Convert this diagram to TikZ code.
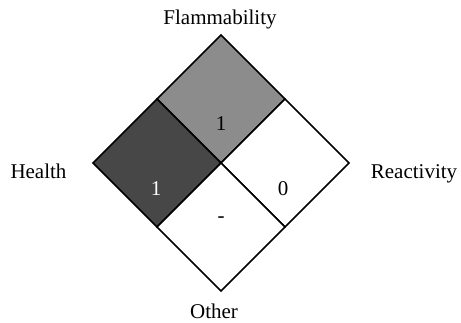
\documentclass[tikz,border=0pt]{standalone}
\usepackage{fontspec}
\setmainfont{Liberation Serif}
\usepackage{tikz}
\usetikzlibrary{positioning, shapes.geometric}

\begin{document}
\begin{tikzpicture}[x=1pt, y=1pt, every node/.style={font=\fontsize{21}{25}\selectfont, inner sep=0pt, outer sep=0pt},
    cell/.style={draw, diamond, line width=1.5pt, minimum width=128pt, minimum height=128pt, aspect=1},
    num/.style={anchor=base}, lbl/.style={anchor=base}]
        \useasboundingbox (0,0) rectangle (461,322);

        \node (flam) [cell, fill=black!45] at (221,223) {};
        \node (health) [cell, fill=black!72] at (157,159) {};
        \node (react) [cell, fill=white] at (285,159) {};
        \node (other) [cell, fill=white] at (221,95) {};

        \node (flamval) [num] at (221,192) {1};
        \node (healthval) [num, text=white] at (156,127) {1};
        \node (reactval) [num] at (283,127) {0};
        \node (otherval) [num] at (221,100) {-};

        \node (flamlbl) [lbl] at (220,297) {Flammability};
        \node (healthlbl) [lbl] at (38.5,143) {Health};
        \node (reactlbl) [lbl] at (414,143) {Reactivity};
        \node (otherlbl) [lbl] at (214,4) {Other};
    \end{tikzpicture}
\end{document}
